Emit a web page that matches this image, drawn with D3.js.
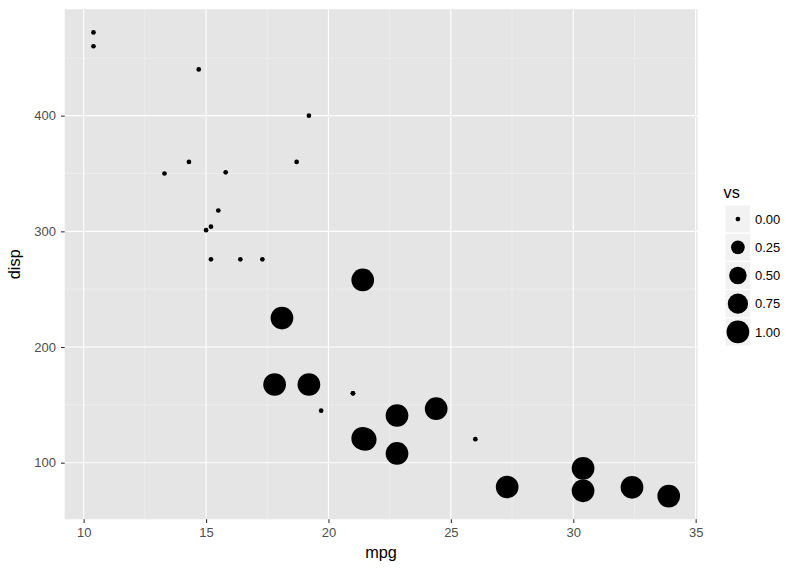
<!DOCTYPE html>
<html><head><meta charset="utf-8">
<script src="https://cdn.jsdelivr.net/npm/d3@7"></script>
<style>body{margin:0;background:#fff}svg{display:block;font-family:"Liberation Sans",Arial,Helvetica,sans-serif}</style>
</head><body>
<script>
const mpg  = [21.0,21.0,22.8,21.4,18.7,18.1,14.3,24.4,22.8,19.2,17.8,16.4,17.3,15.2,10.4,10.4,14.7,32.4,30.4,33.9,21.5,15.5,15.2,13.3,19.2,27.3,26.0,30.4,15.8,19.7,15.0,21.4];
const disp = [160,160,108,258,360,225,360,146.7,140.8,167.6,167.6,275.8,275.8,275.8,472,460,440,78.7,75.7,71.1,120.1,318,304,350,400,79,120.3,95.1,351,145,301,121];
const vs   = [0,0,1,1,0,1,0,1,1,1,1,0,0,0,0,0,0,1,1,1,1,0,0,0,0,1,0,1,0,0,0,1];
const xTicks = [10,15,20,25,30,35];
const yTicks = [100,200,300,400];
const xMinor = [12.5,17.5,22.5,27.5,32.5];
const yMinor = [150,250,350,450];
const legendVals = [0,0.25,0.5,0.75,1];
const legendLabels = ["0.00","0.25","0.50","0.75","1.00"];

const W=800,H=571;
const P={l:64.7,r:697.5,t:9.2,b:519.3};
const svg=d3.select("body").append("svg").attr("width",W).attr("height",H);

const xr=d3.extent(mpg), yr=d3.extent(disp);
const xe=(xr[1]-xr[0])*0.05, ye=(yr[1]-yr[0])*0.05;
const x=d3.scaleLinear().domain([xr[0]-xe,xr[1]+xe]).range([P.l,P.r]);
const y=d3.scaleLinear().domain([yr[0]-ye,yr[1]+ye]).range([P.b,P.t]);
// ggplot scale_size: area palette range 1..6
const sizeS=d3.scaleSqrt().domain([0,1]).range([1,6]);
const rad=s=>1.8*s+0.55;

svg.append("rect").attr("x",P.l).attr("y",P.t).attr("width",P.r-P.l).attr("height",P.b-P.t).attr("fill","#E5E5E5");
const g=svg.append("g");
g.selectAll(".xm").data(xMinor).join("line").attr("x1",d=>x(d)).attr("x2",d=>x(d)).attr("y1",P.t).attr("y2",P.b).attr("stroke","#F2F2F2").attr("stroke-width",0.6);
g.selectAll(".ym").data(yMinor).join("line").attr("y1",d=>y(d)).attr("y2",d=>y(d)).attr("x1",P.l).attr("x2",P.r).attr("stroke","#F2F2F2").attr("stroke-width",0.6);
g.selectAll(".xM").data(xTicks).join("line").attr("x1",d=>x(d)).attr("x2",d=>x(d)).attr("y1",P.t).attr("y2",P.b).attr("stroke","#fff").attr("stroke-width",1.1);
g.selectAll(".yM").data(yTicks).join("line").attr("y1",d=>y(d)).attr("y2",d=>y(d)).attr("x1",P.l).attr("x2",P.r).attr("stroke","#fff").attr("stroke-width",1.1);

// points
const idx=d3.range(mpg.length);
svg.append("g").selectAll("circle").data(idx).join("circle")
  .attr("cx",i=>x(mpg[i])).attr("cy",i=>y(disp[i])).attr("r",i=>rad(sizeS(vs[i]))).attr("fill","#000");

// axes
const xa=svg.append("g").attr("transform",`translate(0,${P.b})`).call(d3.axisBottom(x).tickValues(xTicks).tickSize(3.7).tickPadding(4.5));
const ya=svg.append("g").attr("transform",`translate(${P.l},0)`).call(d3.axisLeft(y).tickValues(yTicks).tickSize(3.7).tickPadding(5));
[xa,ya].forEach(a=>{a.select(".domain").remove();a.selectAll(".tick line").attr("stroke","#333").attr("stroke-width",1.1);
  a.selectAll(".tick text").attr("fill","#4D4D4D").style("font-size","13px").style("font-family","'Liberation Sans',Arial,sans-serif");});

svg.append("text").attr("x",(P.l+P.r)/2).attr("y",558).attr("text-anchor","middle").style("font-size","16.3px").text("mpg");
svg.append("text").attr("transform",`translate(19.5,${(P.t+P.b)/2}) rotate(-90)`).attr("text-anchor","middle").style("font-size","16.3px").text("disp");

// legend
const L={x:725,y:205,w:25.8,h:28.2};
svg.append("text").attr("x",723.5).attr("y",198.3).style("font-size","16.3px").text("vs");
const lg=svg.append("g");
legendVals.forEach((v,i)=>{
  const yy=L.y+i*L.h;
  lg.append("rect").attr("x",L.x).attr("y",yy).attr("width",L.w).attr("height",L.h).attr("fill","#F2F2F2").attr("stroke","#fff").attr("stroke-width",1.1);
  lg.append("circle").attr("cx",L.x+L.w/2).attr("cy",yy+L.h/2).attr("r",rad(sizeS(v))).attr("fill","#000");
  lg.append("text").attr("x",755).attr("y",yy+L.h/2).attr("dy","0.36em").style("font-size","13px").attr("fill","#000").text(legendLabels[i]);
});
</script>
</body></html>
